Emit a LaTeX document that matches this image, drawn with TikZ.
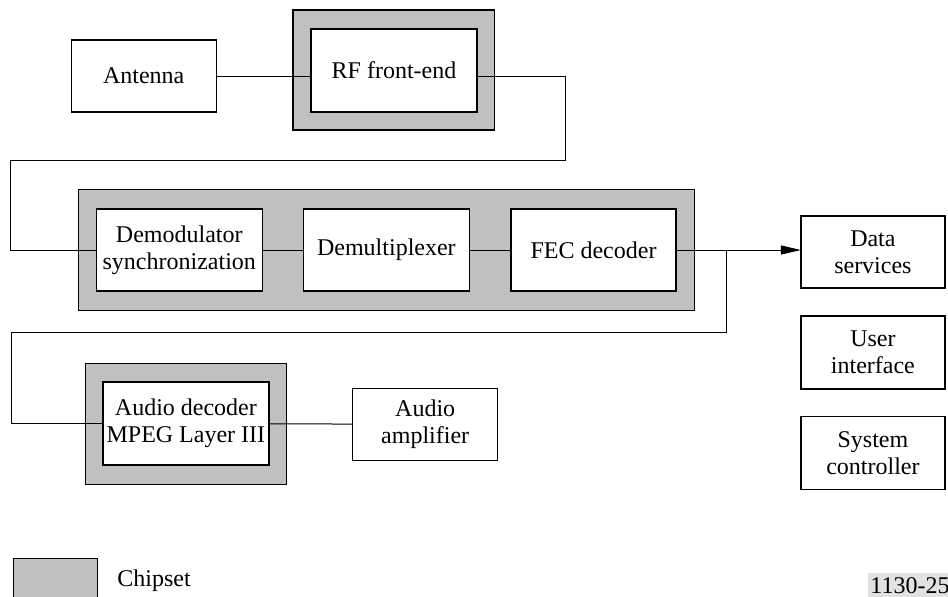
\documentclass[tikz,border=0pt]{standalone}
\usepackage{fontspec}
\setmainfont{Liberation Serif}
\usepackage{tikz}
\usetikzlibrary{arrows.meta}

\definecolor{chipgray}{HTML}{C0C0C0}
\definecolor{labelgray}{HTML}{E2E2E2}

\tikzset{
	box/.style = {draw, line width = 0.6pt, fill = white, align = center, inner sep = 0pt, outer sep = 0pt},
	chip/.style = {draw, line width = 0.6pt, fill = chipgray, inner sep = 0pt, outer sep = 0pt},
	wire/.style = {line width = 0.5pt}
}

\begin{document}
\begin{tikzpicture}[x = 0.5pt, y = -0.5pt, font = \fontsize{12}{13.5}\selectfont]
						\path [use as bounding box, clip] (0,0) rectangle (948,596);
						\begin{scope}
							\node [chip, minimum width = 100.7pt, minimum height = 60pt] (rfchip) at (393.7,70) {};
							\node [chip, minimum width = 307.8pt, minimum height = 60.5pt] (mainchip) at (386.3,250) {};
							\node [chip, minimum width = 100.5pt, minimum height = 60.4pt] (audiochip) at (185.8,423.7) {};
						\end{scope}
						\begin{scope}
							\node [box, minimum width = 72.5pt, minimum height = 36pt] (antenna) at (143.7,76) {Antenna};
							\node [box, minimum width = 83pt, minimum height = 41.5pt] (rf) at (394,70.5) {RF front-end};
							\node [box, minimum width = 83pt, minimum height = 41pt] (demod) at (179.3,250) {Demodulator\\synchronization};
							\node [box, minimum width = 83pt, minimum height = 41pt] (demux) at (386.4,250) {Demultiplexer};
							\node [box, minimum width = 82.5pt, minimum height = 41pt] (fec) at (593.5,250) {FEC decoder};
							\node [box, minimum width = 83pt, minimum height = 41.5pt] (audio) at (185.9,423.5) {Audio decoder\\MPEG Layer III};
							\node [box, minimum width = 72.5pt, minimum height = 36pt] (amp) at (425.2,424.3) {Audio\\amplifier};
							\node [box, minimum width = 72pt, minimum height = 36pt] (data) at (872.9,252) {Data\\services};
							\node [box, minimum width = 72pt, minimum height = 36.5pt] (user) at (872.9,352.5) {User\\interface};
							\node [box, minimum width = 72pt, minimum height = 36.5pt] (sysctl) at (872.9,452.9) {System\\controller};
						\end{scope}
						\begin{scope}[wire]
							\coordinate (rfturn) at (565,160);
							\coordinate (lefta) at (10.7,160);
							\coordinate (fbturn) at (726,332.7);
							\coordinate (leftb) at (11.7,332.7);

							\draw (antenna.east) -- (antenna.east -| rf.west);
							\draw (antenna.east -| rf.east) -- (antenna.east -| rfturn) -- (rfturn) -- (lefta) -- (lefta |- demod.west) -- (demod.west);
							\draw (demod) -- (demux);
							\draw (demux) -- (fec);
							\draw [-{Stealth[length = 10pt, width = 4.5pt, inset = 0pt]}] (fec.east) -- (fec.east -| data.west);
							\draw (fec.east -| fbturn) -- (fbturn) -- (leftb) -- (leftb |- audio.west) -- (audio.west);
							\draw (audio) -- (amp);
						\end{scope}
						\begin{scope}
							\node [chip, minimum width = 42pt, minimum height = 30pt, anchor = north west] (legend) at (13.3,558.3) {};
							\node [anchor = base west, inner sep = 0pt] (legendtext) at (117,586) {Chipset};
							\node [fill = labelgray, anchor = base west, inner xsep = 1pt, inner ysep = 2pt] (figno) at (868,593.3) {1130-25};
						\end{scope}
					\end{tikzpicture}
\end{document}
